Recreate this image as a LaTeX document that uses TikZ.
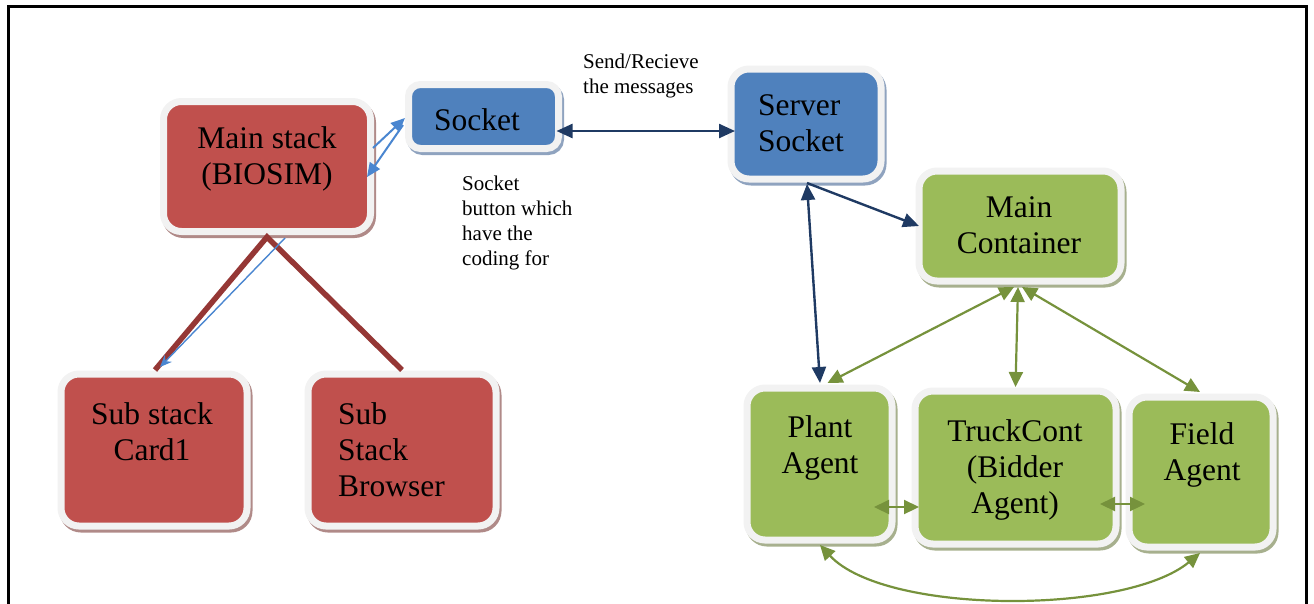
\documentclass[tikz,border=0pt]{standalone}
\usepackage{fontspec}
\setmainfont{Liberation Serif}
\newfontfamily\boxface{Liberation Serif}
\usetikzlibrary{arrows.meta,calc,shadows}

\definecolor{redfill}{HTML}{C0504D}
\definecolor{bluefill}{HTML}{4F81BD}
\definecolor{greenfill}{HTML}{9BBB59}
\definecolor{redshadow}{HTML}{B08A88}
\definecolor{blueshadow}{HTML}{8FA3BF}
\definecolor{greenshadow}{HTML}{A7B08E}
\definecolor{rim}{HTML}{F2F2F2}
\definecolor{navy}{HTML}{1F3A63}
\definecolor{lightblue}{HTML}{4A86D0}
\definecolor{stemred}{HTML}{953735}
\definecolor{leaf}{HTML}{76923C}

\tikzset{
  box/.style={rounded corners=18pt, draw=rim, line width=7pt, outer sep=0pt, inner sep=0pt},
  redbox/.style={box, fill=redfill,
    drop shadow={shadow xshift=2pt, shadow yshift=-3pt, opacity=1,
      fill=redshadow, draw=redshadow, line width=7pt}},
  bluebox/.style={box, fill=bluefill,
    drop shadow={shadow xshift=2pt, shadow yshift=-3pt, opacity=1,
      fill=blueshadow, draw=blueshadow, line width=7pt}},
  greenbox/.style={box, fill=greenfill,
    drop shadow={shadow xshift=2pt, shadow yshift=-3pt, opacity=1,
      fill=greenshadow, draw=greenshadow, line width=7pt}},
  lbl/.style={font=\fontsize{31.5pt}{36pt}\selectfont\boxface, inner sep=0pt, align=center, anchor=north},
  note/.style={font=\fontsize{21pt}{25pt}\selectfont\boxface, inner sep=0pt, align=left, anchor=north west},
  navyline/.style={draw=navy, line width=2.4pt},
  leafline/.style={draw=leaf, line width=2.2pt},
  blueline/.style={draw=lightblue, line width=2pt},
  navyboth/.style={navyline, {Triangle[length=16pt,width=14pt]}-{Triangle[length=16pt,width=14pt]}},
  navyto/.style={navyline, -{Triangle[length=16pt,width=14pt]}},
  leafboth/.style={leafline, {Triangle[length=15pt,width=14pt]}-{Triangle[length=15pt,width=14pt]}},
  blueto/.style={blueline, -{Triangle[length=14pt,width=12pt]}},
  thinblue/.style={draw=lightblue, line width=1.4pt, -{Stealth[length=12pt,width=10pt]}},
  stem/.style={draw=stemred, line width=5.5pt, line join=miter, line cap=butt},
  frame/.style={draw=black, line width=2.6pt}
}

\begin{document}
\begin{tikzpicture}[x=1pt, y=-1pt]
\useasboundingbox (0,0) rectangle (1314,603);

% page frame (open at the bottom)
\draw[frame] (8.5,612) -- (8.5,6.3) -- (1306.3,6.3) -- (1306.3,612);

% boxes
\node[redbox, minimum width=207pt, minimum height=130pt] (main) at (267,166.5) {};
\node[redbox, minimum width=186pt, minimum height=152pt] (card1) at (154,450) {};
\node[redbox, minimum width=188pt, minimum height=152pt] (browser) at (402,450) {};
\node[bluebox, rounded corners=12pt, minimum width=150pt, minimum height=64pt] (sock) at (483.5,116.5) {};
\node[bluebox, minimum width=150pt, minimum height=110pt] (srv) at (806,124) {};
\node[greenbox, minimum width=202pt, minimum height=110pt] (mc) at (1020,226) {};
\node[greenbox, minimum width=145pt, minimum height=152pt] (plant) at (819.5,464) {};
\node[greenbox, minimum width=201pt, minimum height=153pt] (truck) at (1015.5,467.5) {};
\node[greenbox, minimum width=144pt, minimum height=150pt] (field) at (1201,472) {};

% box texts
\node[lbl] (tmain) at (267,126.5) {Main stack\\(BIOSIM)};
\node[lbl] (tsock) at (477,108.5) {Socket};
\node[lbl, align=left, anchor=north west] (tsrv) at (758,94) {Server\\Socket};
\node[lbl] (tmc) at (1019,196) {Main\\Container};
\node[lbl] (tcard) at (152,402) {Sub stack\\Card1};
\node[lbl, align=left, anchor=north west] (tbrw) at (338,402) {Sub\\Stack\\Browser};
\node[lbl] (tplant) at (820,415.5) {Plant\\Agent};
\node[lbl] (ttruck) at (1015,419.5) {TruckCont\\(Bidder\\Agent)};
\node[lbl] (tfield) at (1202,422.5) {Field\\Agent};

% notes
\node[note] (nsend) at (583,53.5) {Send/Recieve\\the messages};
\node[note] (nbtn) at (462,175.7) {Socket\\button which\\have the\\coding for};

% main stack branches
\coordinate (apex) at ($(main.south)+(0,5.5)$);
\draw[stem] ($(card1.north)+(1,-4)$) -- (apex) -- ($(browser.north)+(0,-4)$);
\draw[thinblue] ($(main.south)+(18,6.5)$) -- ($(card1.north)+(6,-7)$);

% main stack <-> socket
\draw[blueto] ($(main.east)+(2.5,-18.5)$) -- ($(sock.west)+(-3.5,1.5)$);
\draw[blueto] ($(sock.west)+(-5.5,8.5)$) -- ($(main.east)+(-3.5,10.5)$);

% socket <-> server socket
\draw[navyboth] ($(sock.east)+(-2,14.5)$) -- ($(srv.west)+(4,7)$);
\draw[navyto] ($(srv.south)+(1,4)$) -- (mc.west);
\draw[navyboth] ($(srv.south)+(1,5)$) -- ($(plant.north)+(0.5,-5)$);

% main container <-> agents
\draw[leafboth] ($(mc.south)+(-6,6)$) -- ($(plant.north)+(8,-5)$);
\draw[leafboth] ($(mc.south)+(-2,6)$) -- ($(truck.north)+(0,-4)$);
\draw[leafboth] ($(mc.south)+(2,6)$) -- ($(field.north)+(-1,-5)$);

% agents among themselves
\draw[leafboth] ($(plant.east)+(-18,43)$) -- ($(truck.west)+(4,39.5)$);
\draw[leafboth] ($(truck.east)+(-16,36.5)$) -- ($(field.west)+(16,32)$);
\draw[leafboth] ($(plant.south)+(0.5,5)$)
  .. controls +(65,70) and +(-75,62) .. ($(field.south)+(-1,6)$);
\end{tikzpicture}
\end{document}
